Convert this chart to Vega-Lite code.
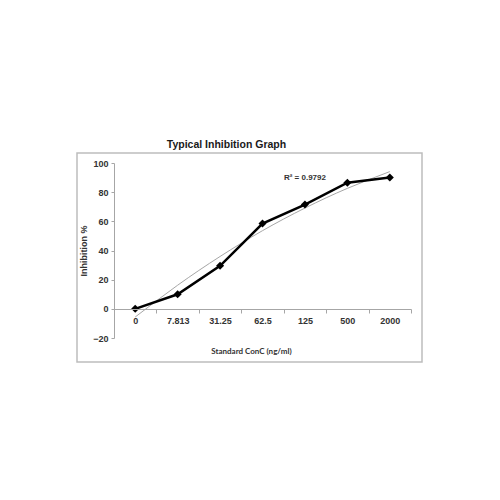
{
  "$schema": "https://vega.github.io/schema/vega-lite/v6.json",
  "width": 297,
  "height": 175,
  "autosize": {"type": "none"},
  "padding": {"left": 114, "top": 163, "right": 89, "bottom": 162},
  "background": "white",
  "title": {
    "text": "Typical Inhibition Graph",
    "font": "Liberation Sans",
    "fontSize": 10.5,
    "fontWeight": "bold",
    "color": "#1a1a1a",
    "anchor": "middle",
    "dx": -36,
    "dy": 22,
    "baseline": "alphabetic",
    "offset": 16
  },
  "data": {
    "values": [
      {"conc": "0", "inhibition": 0, "trend": -5.6},
      {"conc": "7.813", "inhibition": 10, "trend": 16.2},
      {"conc": "31.25", "inhibition": 29.5, "trend": 35.9},
      {"conc": "62.5", "inhibition": 58.5, "trend": 53.6},
      {"conc": "125", "inhibition": 71.5, "trend": 69.1},
      {"conc": "500", "inhibition": 86.5, "trend": 82.6},
      {"conc": "2000", "inhibition": 90, "trend": 94.1}
    ]
  },
  "layer": [
    {
      "transform": [{"filter": "datum.conc == '0'"}],
      "mark": {
        "type": "rect",
        "filled": false,
        "stroke": "#bdbdbd",
        "strokeWidth": 1.5,
        "xOffset": -37,
        "x2Offset": 11,
        "yOffset": -10,
        "y2Offset": 24
      },
      "encoding": {
        "x": {
          "datum": "0",
          "type": "ordinal",
          "bandPosition": 0,
          "scale": {"type": "band", "domain": ["0", "7.813", "31.25", "62.5", "125", "500", "2000"], "paddingInner": 0, "paddingOuter": 0},
          "axis": {"title": "Standard  ConC (ng/ml)"}
        },
        "x2": {"datum": "2000", "bandPosition": 1},
        "y": {
          "datum": 100,
          "type": "quantitative",
          "scale": {"domain": [-20, 100], "nice": false},
          "axis": {"title": "Inhibition %", "values": [-20, 0, 20, 40, 60, 80, 100]}
        },
        "y2": {"datum": -20}
      }
    },
    {
      "mark": {
        "type": "line",
        "interpolate": "natural",
        "stroke": "#a6a6a6",
        "strokeWidth": 1
      },
      "encoding": {
        "x": {
          "field": "conc",
          "type": "ordinal",
          "scale": {"type": "band", "domain": ["0", "7.813", "31.25", "62.5", "125", "500", "2000"], "paddingInner": 0, "paddingOuter": 0},
          "axis": {"title": "Standard  ConC (ng/ml)"}
        },
        "y": {
          "field": "trend",
          "type": "quantitative",
          "scale": {"domain": [-20, 100], "nice": false},
          "axis": {"title": "Inhibition %", "values": [-20, 0, 20, 40, 60, 80, 100]}
        }
      }
    },
    {
      "mark": {
        "type": "line",
        "color": "black",
        "strokeWidth": 2.5,
        "point": {"shape": "diamond", "size": 65, "filled": true, "color": "black"}
      },
      "encoding": {
        "x": {
          "field": "conc",
          "type": "ordinal",
          "scale": {"type": "band", "domain": ["0", "7.813", "31.25", "62.5", "125", "500", "2000"], "paddingInner": 0, "paddingOuter": 0},
          "axis": {"title": "Standard  ConC (ng/ml)"}
        },
        "y": {
          "field": "inhibition",
          "type": "quantitative",
          "scale": {"domain": [-20, 100], "nice": false},
          "axis": {"title": "Inhibition %", "values": [-20, 0, 20, 40, 60, 80, 100]}
        }
      }
    },
    {
      "transform": [{"filter": "datum.conc == '125'"}],
      "mark": {
        "type": "text",
        "text": "R² = 0.9792",
        "font": "Liberation Sans",
        "fontSize": 8,
        "fontWeight": "bold",
        "color": "#333333",
        "baseline": "middle"
      },
      "encoding": {
        "x": {
          "field": "conc",
          "type": "ordinal",
          "scale": {"type": "band", "domain": ["0", "7.813", "31.25", "62.5", "125", "500", "2000"], "paddingInner": 0, "paddingOuter": 0},
          "axis": {"title": "Standard  ConC (ng/ml)"}
        },
        "y": {
          "datum": 89.7,
          "type": "quantitative",
          "scale": {"domain": [-20, 100], "nice": false},
          "axis": {"title": "Inhibition %", "values": [-20, 0, 20, 40, 60, 80, 100]}
        }
      }
    }
  ],
  "config": {
    "view": {"stroke": null},
    "axisX": {
      "titleFont": "Lato",
      "titleFontSize": 8,
      "titleFontWeight": "bold",
      "titleColor": "#333333",
      "titlePadding": 22,
      "titleX": 137,
      "labelAngle": 0,
      "labelFont": "Liberation Sans",
      "labelFontSize": 9,
      "labelFontWeight": "bold",
      "labelColor": "#333333",
      "labelPadding": 3,
      "offset": -29,
      "tickBand": "extent",
      "tickSize": 4,
      "tickColor": "#a6a6a6",
      "domainColor": "#a6a6a6",
      "grid": false
    },
    "axisY": {
      "titleFont": "Liberation Sans",
      "titleFontSize": 9,
      "titleFontWeight": "bold",
      "titleColor": "#333333",
      "titlePadding": 4,
      "labelFont": "Liberation Sans",
      "labelFontSize": 9,
      "labelFontWeight": "bold",
      "labelColor": "#333333",
      "labelPadding": 3,
      "labelOverlap": false,
      "tickSize": 3,
      "tickColor": "#a6a6a6",
      "domainColor": "#a6a6a6",
      "gridColor": "#c8c8c8"
    }
  }
}
